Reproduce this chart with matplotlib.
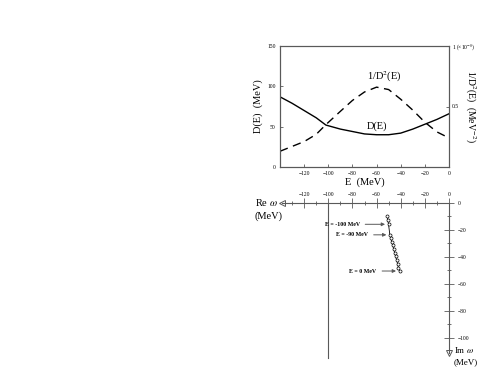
import matplotlib
matplotlib.use('Agg')
import matplotlib.pyplot as plt
import numpy as np

plt.rcParams['font.family'] = ['Liberation Serif', 'DejaVu Serif']
plt.rcParams['mathtext.fontset'] = 'stix'

# Top panel: D(E) and 1/D^2(E) against E (MeV)
energy = [-140, -130, -120, -110, -102, -90, -80, -70, -60, -50, -40, -30, -20, -10, 0]
d_of_e = [87, 79, 70, 61, 52, 47, 44, 41, 40, 40, 42, 47, 53, 59, 66]
inv_d2 = [0.13, 0.17, 0.21, 0.27, 0.35, 0.46, 0.55, 0.62, 0.66, 0.64, 0.56, 0.47, 0.37, 0.29, 0.24]

# Bottom panel: complex omega trajectory (MeV)
re_omega = [-51.0, -50.7, -50.1, -49.0, -48.2, -47.4, -46.6, -45.8, -45.0, -44.2, -43.4, -42.6, -41.9, -41.0]
im_omega = [-9.6, -12.5, -15.8, -23.6, -26.2, -28.8, -31.5, -34.2, -36.9, -39.6, -42.3, -45.0, -47.8, -50.4]

# labelled points: (text, index into the trajectory, x where the arrow starts)
labels = [('E = -100 MeV', 2, -74), ('E = -90 MeV', 3, -67), ('E = 0 MeV', 13, -60)]

re_ticks = [-120, -100, -80, -60, -40, -20, 0]
im_ticks = [-100, -80, -60, -40, -20, 0]
ref_re = -100        # vertical guide line
ref_depth = -115
im_axis_end = -111
re_axis_end = -138

gray = '0.35'

fig = plt.figure(figsize=(4.79, 3.70), dpi=100)

# ---- top panel
ax1 = fig.add_axes([280 / 479, 1 - 167 / 370, 169 / 479, 121 / 370])
ax1.plot(energy, d_of_e, color='black', lw=1.0)
ax1.set_xlim(-140, 0)
ax1.set_ylim(0, 150)
ax1.set_xticks(re_ticks)
ax1.set_yticks([0, 50, 100, 150])
ax1.tick_params(direction='in', length=2.5, width=0.6, labelsize=4, pad=3, color=gray)
ax1.set_xlabel('E  (MeV)', fontsize=7.5, labelpad=1)
ax1.set_ylabel('D(E)  (MeV)', fontsize=7.5, labelpad=3)
for s in ax1.spines.values():
    s.set_color(gray)
    s.set_linewidth(0.8)
ax1.text(-60, 50, 'D(E)', fontsize=7.5, ha='center', va='center')
ax1.text(-54, 112, '1/D$^2$(E)', fontsize=7.5, ha='center', va='center')

ax2 = ax1.twinx()
ax2.plot(energy, inv_d2, color='black', lw=1.0, dashes=(6, 4))
ax2.set_ylim(0, 1)
ax2.set_yticks([0.5, 1])
ax2.set_yticklabels(['0.5', '1 (×10$^{-8}$)'])
ax2.tick_params(direction='in', length=2.5, width=0.6, labelsize=4, pad=2, color=gray)
ax2.set_ylabel('1/D$^2$(E)  (MeV$^{-2}$)', fontsize=7, rotation=270, va='center')
ax2.yaxis.set_label_coords(1.125, 0.5)
for s in ax2.spines.values():
    s.set_color(gray)
    s.set_linewidth(0.8)

# ---- bottom panel
ax3 = fig.add_axes([280 / 479, 5 / 370, 169 / 479, 175 / 370])
ax3.set_xlim(-140, 0)
ax3.set_ylim(-120, 9.6)
ax3.patch.set_visible(False)
ax3.spines['left'].set_visible(False)
ax3.spines['bottom'].set_visible(False)
ax3.spines['top'].set_position(('data', 0))
ax3.spines['top'].set_bounds(re_axis_end, 0)
ax3.spines['right'].set_position(('data', 0))
ax3.spines['right'].set_bounds(im_axis_end, 0)
for s in ('top', 'right'):
    ax3.spines[s].set_color(gray)
    ax3.spines[s].set_linewidth(0.8)
ax3.xaxis.set_ticks_position('top')
ax3.yaxis.set_ticks_position('right')
ax3.set_xticks(re_ticks)
ax3.set_xticks([t + 10 for t in re_ticks[:-1]] + [-130], minor=True)
ax3.set_yticks(im_ticks)
ax3.set_yticks([t - 10 for t in im_ticks], minor=True)
ax3.tick_params(which='major', direction='inout', length=7, width=0.6, labelsize=4,
                pad=1, color=gray)
ax3.tick_params(which='minor', direction='inout', length=3.5, width=0.6, color=gray)
ax3.tick_params(axis='y', which='major', pad=3)
ax3.set_yticklabels(['−100', '−80', '−60', '−40', '−20', '0'])

ax3.plot([ref_re, ref_re], [0, ref_depth], color=gray, lw=0.8)
ax3.plot(re_axis_end, 0, marker='<', ms=4, mfc='white', mec=gray, mew=0.7, clip_on=False)
ax3.plot(0, im_axis_end, marker='v', ms=4, mfc='white', mec=gray, mew=0.7, clip_on=False)

ax3.plot(re_omega, im_omega, color='black', lw=0.6, marker='o', ms=2.2,
         mfc='white', mec='black', mew=0.5)

for txt, i, xs in labels:
    ax3.annotate(txt, xy=(re_omega[i], im_omega[i]), xytext=(xs, im_omega[i]),
                 fontsize=4.2, fontweight='bold', ha='right', va='center',
                 arrowprops=dict(arrowstyle='-|>', color=gray, lw=0.7,
                                 mutation_scale=5, shrinkA=2, shrinkB=2.5))

fig.text(255 / 479, 1 - 203 / 370, 'Re $\\omega$', fontsize=7.5, va='center')
fig.text(255 / 479, 1 - 216 / 370, '(MeV)', fontsize=7.5, va='center')
fig.text(454 / 479, 1 - 350 / 370, 'Im $\\omega$', fontsize=6.5, va='center')
fig.text(454 / 479, 1 - 362 / 370, '(MeV)', fontsize=6.5, va='center')

fig.savefig('out.png', dpi=100)
